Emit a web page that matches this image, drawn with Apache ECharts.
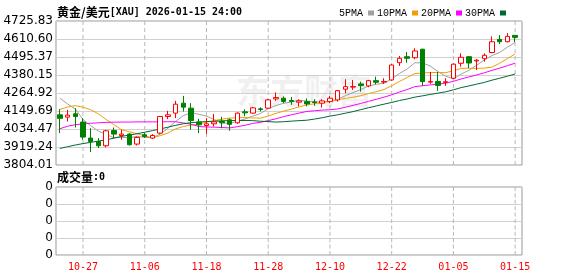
<!DOCTYPE html>
<html>
<head>
<meta charset="utf-8">
<script src="https://cdn.jsdelivr.net/npm/echarts@6/dist/echarts.min.js"></script>
<style>html,body{margin:0;padding:0;background:#fff;}#c{width:578px;height:276px;}</style>
</head>
<body>
<div id="c"></div>
<script>
const dates = ['10-22','10-23','10-24','10-27','10-28','10-29','10-30','10-31','11-03','11-04',
'11-05','11-06','11-07','11-10','11-11','11-12','11-13','11-14','11-17','11-18',
'11-19','11-20','11-21','11-24','11-25','11-26','11-27','11-28','12-01','12-02',
'12-03','12-04','12-05','12-08','12-09','12-10','12-11','12-12','12-15','12-16',
'12-17','12-18','12-19','12-22','12-23','12-24','12-26','12-29','12-30','12-31',
'01-02','01-05','01-06','01-07','01-08','01-09','01-12','01-13','01-14','01-15'];

const opens = [4125.1,4110.4,4131.5,4078.5,3976.3,3954.6,3927.2,4024.9,3993.0,4001.9,
3938.0,3997.4,3976.3,4008.2,4114.2,4136.0,4199.8,4167.9,4078.5,4056.8,
4067.6,4082.3,4093.2,4074.0,4144.3,4136.0,4163.4,4167.9,4227.2,4231.7,
4217.6,4206.2,4210.0,4208.1,4199.8,4210.1,4220.8,4289.2,4302.6,4323.0,
4310.3,4344.0,4334.5,4348.5,4459.0,4497.3,4490.9,4545.2,4334.5,4339.0,
4332.6,4359.4,4455.2,4497.3,4469.8,4484.5,4524.1,4608.4,4593.0,4633.9];
const closes = [4102.7,4123.2,4114.2,3982.7,3954.6,3927.2,4023.0,4001.9,4001.9,3933.6,
3980.2,3986.6,3993.0,4114.2,4125.1,4193.4,4174.3,4088.7,4061.3,4067.6,
4080.0,4074.0,4064.4,4136.0,4137.8,4169.8,4159.0,4220.8,4235.5,4210.1,
4211.2,4214.5,4195.3,4204.3,4214.5,4231.7,4280.2,4305.8,4307.0,4312.2,
4344.0,4333.8,4339.0,4444.3,4487.1,4487.1,4533.7,4337.7,4339.0,4313.4,
4337.0,4449.4,4493.5,4457.1,4474.9,4506.2,4593.0,4593.0,4627.5,4621.1];
const lows = [4008.2,4082.3,4044.0,3965.5,3887.0,3912.5,3916.3,3976.3,3965.5,3929.0,
3929.0,3976.3,3971.8,4001.9,4097.6,4104.0,4146.2,4029.4,4008.2,4003.8,
4050.4,4039.0,4023.0,4067.6,4115.5,4132.8,4147.4,4163.4,4214.5,4199.8,
4189.0,4179.4,4179.4,4182.6,4171.7,4199.8,4210.1,4263.6,4284.7,4273.8,
4301.9,4321.1,4323.0,4344.0,4437.9,4459.0,4480.7,4310.3,4323.0,4278.3,
4310.3,4354.9,4433.4,4425.1,4412.4,4465.4,4519.0,4578.3,4589.2,4591.0];
const highs = [4161.5,4157.0,4167.9,4104.0,4040.2,3976.3,4029.4,4044.0,4029.4,4008.2,
3986.6,4012.1,4001.9,4118.0,4150.6,4214.5,4246.4,4199.8,4099.6,4104.0,
4131.5,4112.3,4102.8,4141.0,4160.2,4176.2,4173.0,4227.2,4268.7,4243.2,
4240.0,4224.0,4230.4,4225.3,4225.3,4246.4,4284.7,4353.0,4348.5,4337.7,
4348.5,4369.6,4359.4,4450.7,4501.8,4527.3,4550.9,4547.7,4399.6,4399.6,
4359.4,4453.9,4519.0,4500.0,4482.6,4519.0,4627.5,4635.8,4648.6,4635.8];

const ma5 = [4232,4195,4163,4095,4055.5,4020.4,4000.3,3977.9,3981.7,3977.5,
3988.1,3980.8,3979.1,4001.5,4039.8,4082.5,4120.0,4139.1,4128.6,4117.1,
4094.4,4074.3,4069.5,4084.4,4098.4,4116.4,4133.4,4164.7,4184.6,4199.0,
4207.3,4218.4,4213.3,4207.1,4208.0,4212.1,4225.2,4247.3,4267.8,4287.4,
4309.8,4320.6,4327.2,4354.7,4389.6,4418.3,4458.2,4458.0,4436.9,4402.2,
4372.2,4355.3,4386.5,4410.1,4442.4,4476.2,4504.9,4524.8,4558.9,4588.2];
const ma10 = [4160,4175,4184,4174,4158,4131,4095,4063,4030,4016.5,
4004.3,3990.6,3978.5,3991.6,4008.7,4035.3,4050.4,4059.1,4065.0,4078.4,
4088.4,4097.2,4104.3,4106.5,4107.8,4105.4,4103.9,4117.1,4134.5,4148.7,
4161.9,4175.9,4189.0,4195.8,4203.5,4209.7,4221.8,4230.3,4237.5,4247.7,
4261.0,4272.9,4287.3,4311.3,4338.5,4364.1,4389.4,4392.6,4395.8,4395.9,
4395.2,4406.8,4422.2,4423.5,4422.3,4424.2,4430.1,4455.7,4484.5,4515.3];
const ma20 = [4036,4052,4062,4067,4071,4074,4077,4078,4079,4079,
4080,4080,4080,4080,4081,4080.8,4073.2,4065.0,4050.3,4047.5,
4046.3,4043.9,4041.4,4049.1,4058.2,4070.3,4077.1,4088.1,4099.8,4113.6,
4125.1,4136.5,4146.7,4151.2,4155.6,4157.5,4162.8,4173.7,4186.0,4198.2,
4211.4,4224.4,4238.1,4253.5,4271.0,4286.9,4305.6,4311.5,4316.6,4321.8,
4328.1,4339.8,4354.7,4367.4,4380.4,4394.1,4409.8,4424.1,4440.1,4455.6];
const ma30 = [3910,3921,3932,3941,3949,3957,3965,3976,3987,3996,
4004,4014,4024,4035,4046,4058,4068,4075,4079,4082,
4084,4087,4088,4089,4089,4088,4084,4082,4079,4081.2,
4084.8,4087.9,4090.6,4098.0,4106.6,4116.8,4125.4,4135.5,4145.7,4158.3,
4170.4,4182.0,4193.5,4204.5,4216.6,4226.4,4238.4,4246.7,4255.9,4264.1,
4272.7,4285.2,4299.5,4310.2,4321.4,4332.6,4347.1,4359.5,4372.6,4386.3];
const volumes = [0,0,0,0,0,0,0,0,0,0, 0,0,0,0,0,0,0,0,0,0, 0,0,0,0,0,0,0,0,0,0,
0,0,0,0,0,0,0,0,0,0, 0,0,0,0,0,0,0,0,0,0, 0,0,0,0,0,0,0,0,0,0];

const yTickLabels = ['3804.01','3919.24','4034.47','4149.69','4264.92','4380.15','4495.37','4610.60','4725.83'];
const volTickLabels = ['0','0','0','0','0'];
const xLabelDates = ['10-27','11-06','11-18','11-28','12-10','12-22','01-05','01-15'];
const maNames = ['5PMA','10PMA','20PMA','30PMA'];
const maColors = ['#a0a0a0','#f0a000','#ff00ff','#006a36'];
const maData = [ma5, ma10, ma20, ma30];
const yMin = 3804.01, yMax = 4725.83;

const candleData = dates.map((d, i) => [opens[i], closes[i], lows[i], highs[i]]);
// full-height guide marks on the labelled dates (1 = full height of the overlay grid)
const guideData = dates.map(d => xLabelDates.indexOf(d) >= 0 ? 1 : '-');

const guideSeries = (xi, yi) => ({
  type: 'pictorialBar', xAxisIndex: xi, yAxisIndex: yi, data: guideData,
  symbol: 'rect', symbolSize: [1, 4], symbolRepeat: true, symbolMargin: 1.5,
  symbolClip: true, barWidth: 1, silent: true, z: 1,
  itemStyle: {color: '#b8b8b8'}
});
const hiddenCat = (gi) => ({gridIndex: gi, type: 'category', data: dates, boundaryGap: true, show: false});
const hiddenUnit = (gi) => ({gridIndex: gi, type: 'value', min: 0, max: 1, show: false, splitLine: {show: false}});

const chart = echarts.init(document.getElementById('c'), null, {renderer: 'canvas'});
chart.setOption({
  animation: false,
  backgroundColor: '#fff',
  title: [
    {left: 52, top: 1, text: '{a|黄金/美元}{b|[XAU] 2026-01-15 24:00}',
     textStyle: {rich: {a: {fontFamily: 'Noto Sans CJK SC', fontSize: 12, color: '#000'},
                        b: {fontFamily: 'DejaVu Sans Mono', fontSize: 10, color: '#000'}}}},
    {left: 52, top: 166, text: '{a|成交量}{b|:0}',
     textStyle: {rich: {a: {fontFamily: 'Noto Sans CJK SC', fontSize: 12, color: '#000'},
                        b: {fontFamily: 'DejaVu Sans Mono', fontSize: 10, color: '#000'}}}}
  ],
  legend: {
    left: 334, top: 3, align: 'right', icon: 'rect', itemWidth: 6, itemHeight: 5, itemGap: 3,
    selectedMode: false, data: maNames,
    textStyle: {fontFamily: 'Liberation Mono', fontSize: 10, color: '#000'}
  },
  graphic: [{
    type: 'text', left: 236, top: 74, z: 0, silent: true,
    style: {text: '东方财富', fontSize: 34, fontWeight: 'bold', fontFamily: 'Noto Sans CJK SC', fill: 'rgba(0,0,0,0.06)'}
  }],
  grid: [
    {left: 56, top: 21, width: 466, height: 144, show: true, borderColor: '#999', borderWidth: 1, backgroundColor: 'rgba(0,0,0,0)'},
    {left: 56, top: 21, width: 463, height: 144},
    {left: 56, top: 187, width: 466, height: 68, show: true, borderColor: '#999', borderWidth: 1, backgroundColor: 'rgba(0,0,0,0)'},
    {left: 56, top: 187, width: 463, height: 68},
    {left: 56, top: 21, width: 463, height: 144},
    {left: 56, top: 187, width: 463, height: 68}
  ],
  xAxis: [
    {gridIndex: 0, type: 'value', min: 0, max: 1, show: false},
    {gridIndex: 1, type: 'category', data: dates, boundaryGap: true,
     axisLine: {show: false}, axisTick: {show: false}, axisLabel: {show: false}, splitLine: {show: false}},
    {gridIndex: 2, type: 'value', min: 0, max: 1, show: false},
    {gridIndex: 3, type: 'category', data: dates, boundaryGap: true,
     axisLine: {show: false}, axisTick: {show: false}, splitLine: {show: false},
     axisLabel: {interval: (i, v) => xLabelDates.indexOf(v) >= 0, color: '#ff0000',
                 fontFamily: 'DejaVu Sans Mono', fontSize: 10, margin: 7}},
    hiddenCat(4),
    hiddenCat(5)
  ],
  yAxis: [
    {gridIndex: 0, type: 'value', min: 0, max: 8, interval: 1,
     axisLine: {show: false}, axisTick: {show: false},
     axisLabel: {formatter: v => yTickLabels[Math.round(v)], color: '#000', fontFamily: 'DejaVu Sans', fontSize: 12, margin: 3},
     splitLine: {show: true, lineStyle: {color: '#d0d0d0', width: 1}}},
    {gridIndex: 1, type: 'value', min: yMin, max: yMax, show: false, splitLine: {show: false}},
    {gridIndex: 2, type: 'value', min: 0, max: 4, interval: 1,
     axisLine: {show: false}, axisTick: {show: false},
     axisLabel: {formatter: v => volTickLabels[Math.round(v)], color: '#000', fontFamily: 'DejaVu Sans', fontSize: 12, margin: 3},
     splitLine: {show: true, lineStyle: {color: '#d0d0d0', width: 1}}},
    hiddenUnit(3),
    hiddenUnit(4),
    hiddenUnit(5)
  ],
  series: [
    guideSeries(4, 4),
    guideSeries(5, 5),
    {type: 'candlestick', xAxisIndex: 1, yAxisIndex: 1, data: candleData, barWidth: 5,
     itemStyle: {color: '#ffffff', color0: '#008000', borderColor: '#ff0000', borderColor0: '#008000', borderWidth: 1},
     z: 4},
    ...maNames.map((n, i) => ({
      name: n, type: 'line', xAxisIndex: 1, yAxisIndex: 1, data: maData[i], symbol: 'none',
      lineStyle: {color: maColors[i], width: 1}, itemStyle: {color: maColors[i]}, z: 3
    })),
    {type: 'bar', xAxisIndex: 3, yAxisIndex: 3, data: volumes}
  ]
});
</script>
</body>
</html>
